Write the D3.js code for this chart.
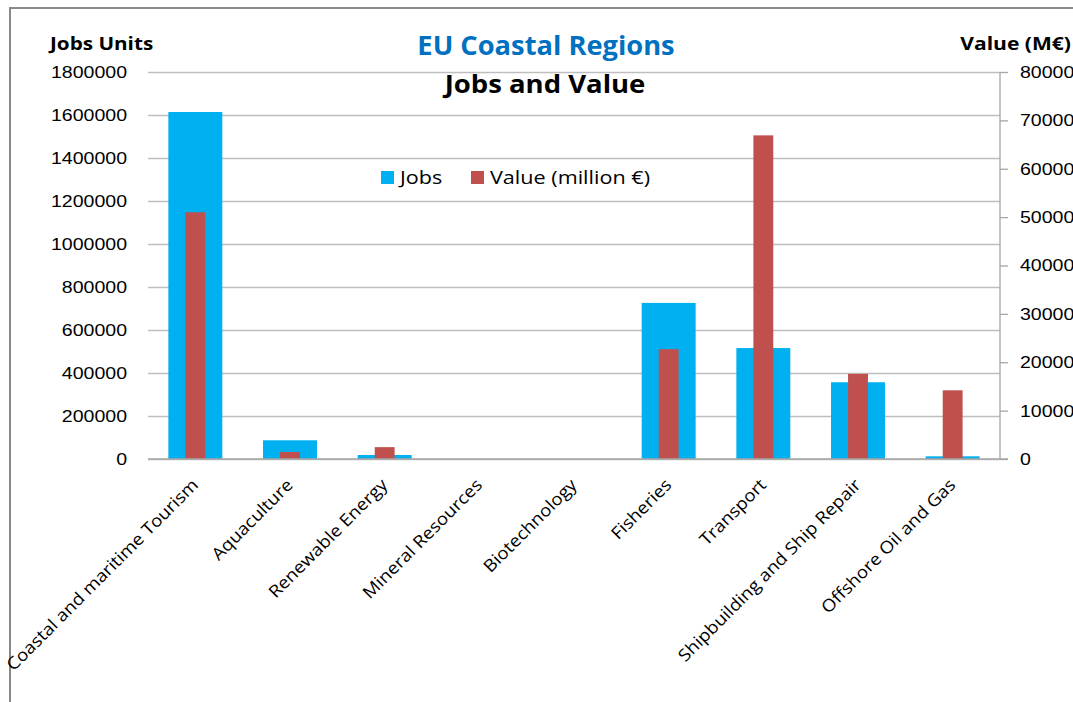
<!DOCTYPE html>
<html>
<head>
<meta charset="utf-8">
<script src="https://cdn.jsdelivr.net/npm/d3@7"></script>
<style>
  html, body { margin: 0; padding: 0; background: #fff; overflow: hidden; }
  svg { display: block; font-family: "Open Sans", "Noto Sans", sans-serif; }
</style>
</head>
<body>
<svg id="chart" width="1073" height="702"></svg>
<script>
const categories = [
  'Coastal and maritime Tourism', 'Aquaculture', 'Renewable Energy', 'Mineral Resources',
  'Biotechnology', 'Fisheries', 'Transport', 'Shipbuilding and Ship Repair', 'Offshore Oil and Gas'
];
const jobs = [1614000, 87000, 18600, 0, 0, 726000, 516000, 357000, 12500];
const valueMEur = [51000, 1450, 2450, 0, 0, 22700, 66900, 17600, 14200];
const jobsTicks = [0, 200000, 400000, 600000, 800000, 1000000, 1200000, 1400000, 1600000, 1800000];
const valueTicks = [0, 10000, 20000, 30000, 40000, 50000, 60000, 70000, 80000];

const svg = d3.select('#chart');
const margin = { left: 148, right: 1000, top: 72, bottom: 459 };
const JOBS_COLOR = '#00B0F0';
const VALUE_COLOR = '#C0504D';
const GRID = '#BEBEBE';

// the source font is wider than Open Sans, so stretch text horizontally a bit
function label(x, y, txt, size, s, opts = {}) {
  return svg.append('text')
    .attr('transform', `translate(${x},${y}) scale(${s},1)`)
    .attr('text-anchor', opts.anchor || 'start')
    .attr('font-size', size)
    .attr('font-weight', opts.bold ? 'bold' : 'normal')
    .attr('fill', opts.color || '#000')
    .text(txt);
}
function stretchTicks(g, s) {
  g.selectAll('.tick text').each(function () {
    const t = d3.select(this);
    t.attr('x', +t.attr('x') / s).attr('transform', `scale(${s},1)`);
  });
}

// chart frame
svg.append('rect')
  .attr('x', 10).attr('y', 8).attr('width', 1100).attr('height', 720)
  .attr('fill', 'none').attr('stroke', '#898989').attr('stroke-width', 2);

const x = d3.scaleBand().domain(categories).range([margin.left, margin.right]);
const yJobs = d3.scaleLinear().domain([0, 1800000]).range([margin.bottom, margin.top]);
const yValue = d3.scaleLinear().domain([0, 80000]).range([margin.bottom, margin.top]);

// gridlines + left labels
const leftAxis = d3.axisLeft(yJobs).tickValues(jobsTicks).tickFormat(d3.format('d'))
  .tickSize(-(margin.right - margin.left)).tickPadding(21);
const gL = svg.append('g').attr('transform', `translate(${margin.left},0)`).call(leftAxis);
gL.select('.domain').remove();
gL.selectAll('.tick line').attr('stroke', GRID).attr('stroke-width', 1.3);
gL.selectAll('.tick text').attr('font-size', 17).attr('fill', '#000');
stretchTicks(gL, 1.15);

// right axis
const rightAxis = d3.axisRight(yValue).tickValues(valueTicks).tickFormat(d3.format('d'))
  .tickSize(8).tickPadding(12);
const gR = svg.append('g').attr('transform', `translate(${margin.right},0)`).call(rightAxis);
gR.select('.domain').attr('stroke', '#A6A6A6').attr('stroke-width', 1.3).attr('d', `M0,${margin.top}V${margin.bottom}`);
gR.selectAll('.tick line').attr('stroke', '#A6A6A6').attr('stroke-width', 1.3);
gR.selectAll('.tick text').attr('font-size', 17).attr('fill', '#000');
stretchTicks(gR, 1.15);

// bars
const bw = x.bandwidth();
const jobsW = bw * 0.57;
const valueW = bw * 0.21;

svg.append('g').selectAll('rect')
  .data(categories.map((c, i) => ({ c, v: jobs[i] })))
  .join('rect')
  .attr('x', d => x(d.c) + (bw - jobsW) / 2)
  .attr('y', d => yJobs(d.v))
  .attr('width', jobsW)
  .attr('height', d => yJobs(0) - yJobs(d.v))
  .attr('fill', JOBS_COLOR);

svg.append('g').selectAll('rect')
  .data(categories.map((c, i) => ({ c, v: valueMEur[i] })))
  .join('rect')
  .attr('x', d => x(d.c) + (bw - valueW) / 2)
  .attr('y', d => yValue(d.v))
  .attr('width', valueW)
  .attr('height', d => yValue(0) - yValue(d.v))
  .attr('fill', VALUE_COLOR);

// bottom axis line
svg.append('line')
  .attr('x1', margin.left).attr('x2', margin.right + 8)
  .attr('y1', margin.bottom).attr('y2', margin.bottom)
  .attr('stroke', '#A6A6A6').attr('stroke-width', 1.5);

// category labels
svg.append('g').selectAll('text')
  .data(categories)
  .join('text')
  .attr('transform', d => `translate(${x(d) + bw / 2 + 4},${margin.bottom + 27}) rotate(-45) scale(1.1,1)`)
  .attr('text-anchor', 'end')
  .attr('font-size', 17)
  .attr('fill', '#000')
  .text(d => d);

// titles
label(546, 55, 'EU Coastal Regions', 26, 1.05, { anchor: 'middle', bold: true, color: '#0070C0' });
label(545, 93, 'Jobs and Value', 25, 1.1, { anchor: 'middle', bold: true });
label(50, 50, 'Jobs Units', 18, 1.15, { bold: true });
label(1071, 50, 'Value (M€)', 18, 1.17, { anchor: 'end', bold: true });

// legend
const legend = [{ name: 'Jobs', color: JOBS_COLOR, x: 381 }, { name: 'Value (million €)', color: VALUE_COLOR, x: 471 }];
const lg = svg.append('g').selectAll('g').data(legend).join('g')
  .attr('transform', d => `translate(${d.x},171)`);
lg.append('rect').attr('width', 13).attr('height', 13).attr('fill', d => d.color);
lg.append('text').attr('transform', 'translate(19,13) scale(1.2,1)')
  .attr('font-size', 18).attr('fill', '#000').text(d => d.name);
</script>
</body>
</html>
